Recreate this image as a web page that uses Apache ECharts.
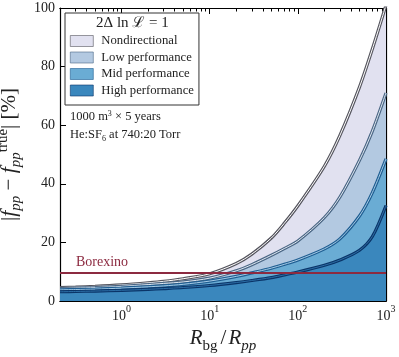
<!DOCTYPE html>
<html>
<head>
<meta charset="utf-8">
<script src="https://cdn.jsdelivr.net/npm/echarts@6/dist/echarts.min.js"></script>
<style>
html, body { margin: 0; padding: 0; background: #fff; }
#chart { width: 399px; height: 357px; }
</style>
</head>
<body>
<div id="chart"></div>
<script>
// R_bg / R_pp sample points and the four 2ΔlnL=1 curves (in %)
const ratio = [0.2, 0.3, 0.5, 1, 2, 3, 5, 10, 20, 30, 50, 70, 100, 200, 300, 500, 700, 1000]
const nondirectional = [4.6, 4.75, 5.0, 5.5, 6.2, 6.7, 7.6, 9.3, 12.8, 16, 21.5, 26.5, 32.5, 46, 56.5, 73, 86, 101]
const lowPerf = [4.25, 4.4, 4.6, 5.0, 5.6, 6.0, 6.5, 7.8, 10.3, 12.4, 15.6, 17.9, 20.5, 28.5, 35.5, 48, 58, 71]
const midPerf = [3.8, 3.9, 4.05, 4.4, 4.85, 5.15, 5.7, 6.8, 8.4, 9.6, 11.2, 12.5, 14.0, 17.8, 21.2, 29, 37, 48.5]
const highPerf = [3.15, 3.25, 3.4, 3.65, 4.0, 4.25, 4.6, 5.3, 6.3, 7.0, 8.0, 8.9, 9.9, 12.2, 14.0, 17.3, 22.0, 32.6]
const borexino = 9.7
const curveNames = ["Nondirectional", "Low performance", "Mid performance", "High performance"]
const majorTicks = [1, 10, 100, 1000]

let minorTicks = []
;[0.1, 1, 10, 100].forEach((d) => {
  for (let k = 2; k <= 9; k++) {
    let v = +(d * k).toPrecision(3)
    if (v > 0.2 && v < 1000) minorTicks.push(v)
  }
})

const serif = "Liberation Serif"
const fills = ["#e1e1f0", "#b3c9e1", "#6aacd4", "#3a87bd"]
const outer = ["#55555e", "#4a6684", "#1f5e92", "#0a3468"]
const inner = ["#ffffff", "#dfe8f2", "#a6cbe6", "#2c6ea6"]
const curves = [nondirectional, lowPerf, midPerf, highPerf]

let series = []
curves.forEach((vals, i) => {
  let pts = ratio.map((r, j) => [r, vals[j]])
  series.push({
    name: curveNames[i],
    type: "line",
    data: pts,
    showSymbol: false,
    symbol: "none",
    smooth: 0.3,
    silent: true,
    itemStyle: { color: fills[i] },
    lineStyle: { color: outer[i], width: 3.2 },
    areaStyle: { color: fills[i], opacity: 1, origin: "start" }
  })
  series.push({
    name: curveNames[i] + " edge",
    type: "line",
    data: pts,
    showSymbol: false,
    symbol: "none",
    smooth: 0.3,
    silent: true,
    lineStyle: { color: inner[i], width: 1 }
  })
})
series.push({
  name: "Borexino",
  type: "line",
  data: [],
  markLine: {
    silent: true,
    symbol: "none",
    lineStyle: { color: "#8c2a40", width: 1.8, type: "solid" },
    label: {
      formatter: "Borexino",
      position: "insideStartTop",
      distance: [16, 3],
      color: "#8c2a40",
      fontFamily: serif,
      fontSize: 14
    },
    data: [{ yAxis: borexino }]
  }
})

const supRich = {
  b: { fontFamily: serif, fontSize: 14, color: "#222", lineHeight: 19, verticalAlign: "bottom" },
  s: { fontFamily: serif, fontSize: 10, color: "#222", lineHeight: 19, verticalAlign: "top" }
}

function xAxisBase(pos, major) {
  return {
    type: "log",
    logBase: 10,
    min: 0.2,
    max: 1000,
    position: pos,
    gridIndex: 0,
    axisLine: { show: true, lineStyle: { color: "#000", width: 1.2 } },
    splitLine: { show: false },
    axisTick: {
      show: true,
      inside: true,
      length: major ? 6 : 3.5,
      lineStyle: { color: "#000", width: 1 },
      customValues: major ? majorTicks : minorTicks
    },
    axisLabel: { show: false }
  }
}

let xMain = xAxisBase("bottom", true)
xMain.axisLabel = {
  show: true,
  customValues: majorTicks,
  margin: 3,
  formatter: (v) => "{b|10}{s|" + Math.round(Math.log10(v)) + "}",
  rich: supRich
}
xMain.name = "{i|R}{sb|bg}{n|/}{i|R}{si|pp}"
xMain.nameLocation = "middle"
xMain.nameGap = 10
xMain.nameTextStyle = {
  rich: {
    i: { fontFamily: serif, fontStyle: "italic", fontSize: 21, color: "#222", lineHeight: 26, verticalAlign: "top" },
    n: { fontFamily: serif, fontSize: 21, color: "#222", lineHeight: 26, verticalAlign: "top", padding: [0, 2, 0, 3] },
    sb: { fontFamily: serif, fontSize: 15, color: "#222", lineHeight: 26, verticalAlign: "bottom" },
    si: { fontFamily: serif, fontStyle: "italic", fontSize: 15, color: "#222", lineHeight: 26, verticalAlign: "bottom" }
  }
}

function yAxisBase(pos) {
  return {
    type: "value",
    min: 0,
    max: 100,
    interval: 20,
    position: pos,
    axisLine: { show: true, lineStyle: { color: "#000", width: 1.2 } },
    splitLine: { show: false },
    axisTick: { show: true, inside: true, length: 6, lineStyle: { color: "#000", width: 1 } },
    axisLabel: { show: false }
  }
}
let yMain = yAxisBase("left")
yMain.axisLabel = { show: true, fontFamily: serif, fontSize: 14, color: "#222", margin: 5 }
yMain.name = "|{i|f}{s|pp} − {i|f}{s|pp}{u|true}| [%]"
yMain.nameLocation = "middle"
yMain.nameGap = 24
yMain.nameTextStyle = {
  fontFamily: serif,
  fontSize: 21,
  color: "#222",
  rich: {
    i: { fontFamily: serif, fontStyle: "italic", fontSize: 22, color: "#222", lineHeight: 28, verticalAlign: "middle" },
    s: { fontFamily: serif, fontStyle: "italic", fontSize: 15, color: "#222", lineHeight: 28, verticalAlign: "bottom" },
    u: { fontFamily: serif, fontSize: 15, color: "#222", lineHeight: 28, verticalAlign: "top" }
  }
}

let option = {
  animation: false,
  backgroundColor: "#fff",
  grid: { left: 60, right: 13, top: 8, bottom: 56, outerBoundsMode: "none", containLabel: false },
  xAxis: [xMain, xAxisBase("bottom", false), xAxisBase("top", true), xAxisBase("top", false)],
  yAxis: [yMain, yAxisBase("right")],
  legend: {
    left: 65,
    top: 13,
    orient: "vertical",
    icon: "rect",
    itemWidth: 23,
    itemHeight: 11,
    itemGap: 3.5,
    padding: [21.5, 5, 8, 5],
    backgroundColor: "#fff",
    borderColor: "#333",
    borderWidth: 1,
    borderRadius: 0,
    selectedMode: false,
    textStyle: { fontFamily: serif, fontSize: 12.7, color: "#222", lineHeight: 13, padding: [0, 0, 0, 3] },
    data: curveNames.map((n, i) => ({
      name: n,
      itemStyle: { color: fills[i], borderColor: outer[i], borderWidth: 0.6, opacity: 1 }
    }))
  },
  graphic: [
    {
      type: "text",
      left: 96,
      top: 16,
      z: 100,
      style: {
        text: "2Δ ln ℒ = 1",
        fontFamily: serif,
        fontSize: 15,
        fill: "#222"
      }
    },
    {
      type: "text",
      left: 70,
      top: 110,
      z: 100,
      style: {
        text: "1000 m{s|3} × 5 years",
        fontFamily: serif,
        fontSize: 12.5,
        fill: "#222",
        rich: {
          s: { fontFamily: serif, fontSize: 8, fill: "#222", verticalAlign: "top", lineHeight: 14 }
        }
      }
    },
    {
      type: "text",
      left: 70,
      top: 128,
      z: 100,
      style: {
        text: "He:SF{d|6} at 740:20 Torr",
        fontFamily: serif,
        fontSize: 12.5,
        fill: "#222",
        rich: {
          d: { fontFamily: serif, fontSize: 8, fill: "#222", verticalAlign: "bottom", lineHeight: 16 }
        }
      }
    }
  ],
  series: series
}

const myChart = echarts.init(document.getElementById("chart"), null, { renderer: "canvas" })
myChart.setOption(option)
window.addEventListener("resize", function () {
  myChart.resize()
})
</script>
</body>
</html>
